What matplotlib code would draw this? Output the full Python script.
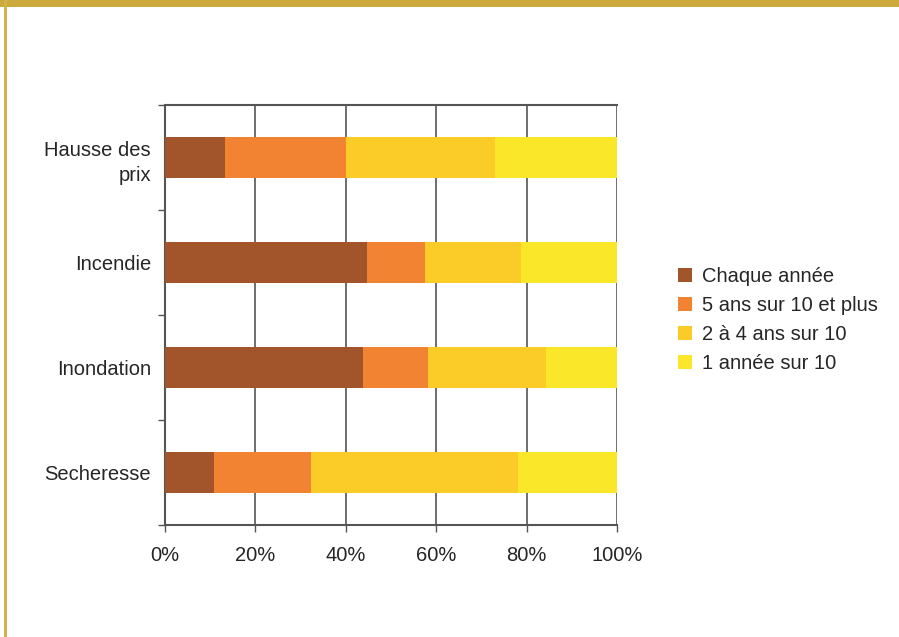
import matplotlib.pyplot as plt
from matplotlib.patches import Rectangle
import numpy as np

plt.rcParams['font.family'] = ['Liberation Sans', 'DejaVu Sans']

# data (percent of respondents)
categories = ["Hausse des\nprix", "Incendie", "Inondation", "Secheresse"]
series_names = ["Chaque année", "5 ans sur 10 et plus", "2 à 4 ans sur 10", "1 année sur 10"]
chaque_annee = [13.3, 44.7, 43.8, 10.8]
cinq_ans = [26.7, 12.8, 14.4, 21.5]
deux_a_quatre = [33.0, 21.3, 26.1, 45.8]
une_annee = [27.0, 21.2, 15.7, 21.9]
x_ticks = [0, 20, 40, 60, 80, 100]

colors = ["#A2552B", "#F18333", "#FBCB27", "#FAE72A"]
text_col = "#262626"
grid_col = "#555555"
gold = "#CBA93C"

fig = plt.figure(figsize=(8.99, 6.37), dpi=100)

# gold frame: top band and left rule
fig.patches.append(Rectangle((0, 1 - 7 / 637), 1, 7 / 637, transform=fig.transFigure,
                             facecolor=gold, edgecolor="none"))
fig.patches.append(Rectangle((4 / 899, 0), 3 / 899, 1, transform=fig.transFigure,
                             facecolor="#D4B24A", edgecolor="none"))

ax = fig.add_axes([165 / 899, 1 - 525 / 637, 452 / 899, 420 / 637])

y = np.arange(len(categories))
left = np.zeros(len(categories))
for vals, name, c in zip([chaque_annee, cinq_ans, deux_a_quatre, une_annee], series_names, colors):
    ax.barh(y, vals, left=left, height=0.39, color=c, label=name, zorder=3)
    left += np.array(vals)

ax.set_xlim(0, 100)
ax.set_ylim(len(categories) - 0.5, -0.5)

ax.set_xticks(x_ticks)
ax.set_xticklabels([f"{t}%" for t in x_ticks], fontsize=14.5, color=text_col)
ax.xaxis.grid(True, color=grid_col, linewidth=1.2, zorder=0)

ax.set_yticks(y)
ax.set_yticklabels(categories, fontsize=14.5, color=text_col, ha="right",
                   multialignment="right", linespacing=1.45)
ax.set_yticks(np.arange(-0.5, len(categories), 1), minor=True)
ax.tick_params(axis="y", which="major", length=0, pad=10)
ax.tick_params(axis="y", which="minor", length=5, width=1, color=grid_col, direction="out")
ax.tick_params(axis="x", length=5, width=1, color=grid_col, pad=10, direction="out")

for side in ["top", "left", "bottom"]:
    ax.spines[side].set_color(grid_col)
    ax.spines[side].set_linewidth(1.5)
ax.spines["right"].set_visible(False)

leg = ax.legend(loc="center left", bbox_to_anchor=(660 / 899, 317 / 637),
                bbox_transform=fig.transFigure, frameon=False, fontsize=14.5,
                handlelength=0.7, handleheight=0.7, handletextpad=0.5,
                labelspacing=0.5, labelcolor=text_col)

fig.savefig("out.png", dpi=100)
